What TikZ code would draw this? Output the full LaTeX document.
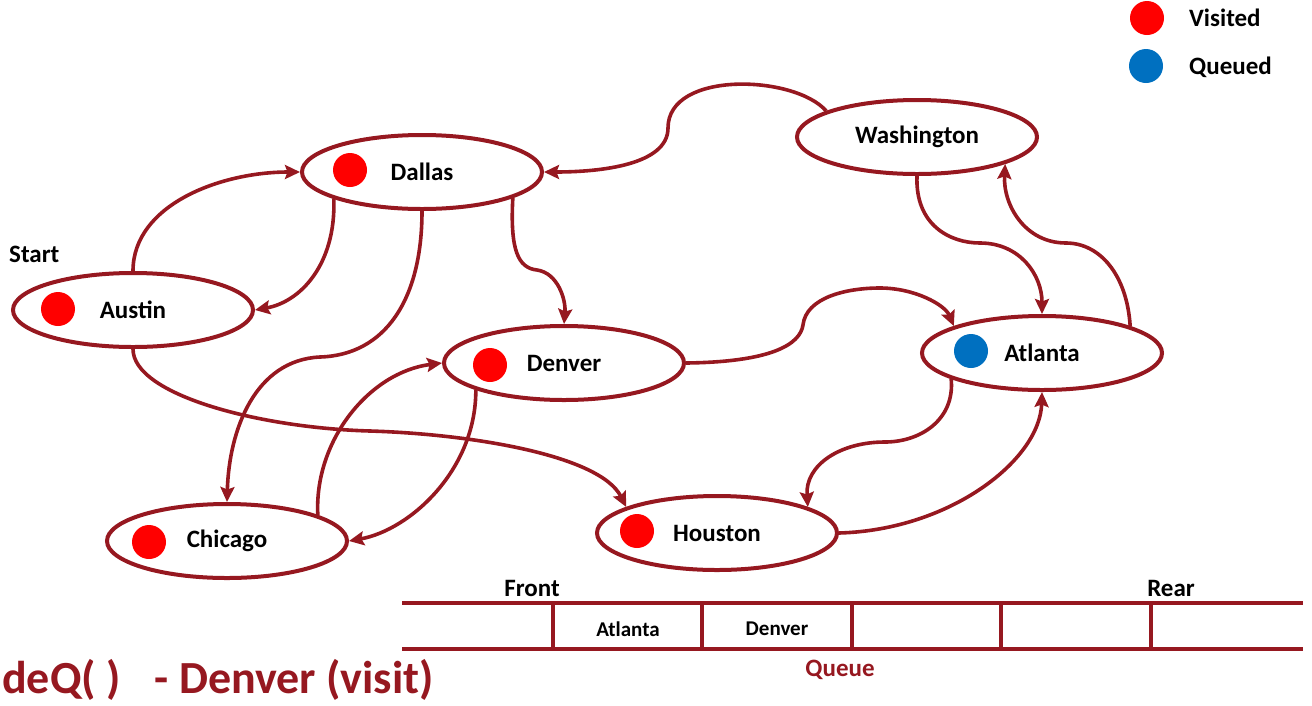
\documentclass[tikz,border=0pt]{standalone}
\usepackage{fontspec}
\setmainfont{Carlito}
\usetikzlibrary{shapes.geometric,arrows.meta}

\definecolor{linkred}{RGB}{150,24,32}
\definecolor{visitred}{RGB}{255,0,0}
\definecolor{queueblue}{RGB}{0,112,192}

\tikzset{
  city/.style={ellipse, draw=linkred, line width=4pt, fill=white,
    minimum width=240pt, minimum height=74pt, inner sep=0pt,
    font=\fontsize{25}{30}\selectfont\bfseries},
  dot/.style={circle, minimum size=34pt, inner sep=0pt},
  tag/.style={inner sep=0pt, font=\fontsize{25}{30}\selectfont\bfseries},
  cell/.style={inner sep=0pt, font=\fontsize{21}{25}\selectfont\bfseries},
  link/.style={draw=linkred, line width=3.6pt,
    -{Stealth[length=15pt,width=14pt,inset=2.5pt]}},
  bar/.style={draw=linkred, line width=4.5pt},
}

\begin{document}
\begin{tikzpicture}[x=1pt,y=-1pt]

\useasboundingbox (0,0) rectangle (1312,705);

% cities
\node[city] (dal) at (422,172) {Dallas};
\node[city] (was) at (917,137) {Washington};
\node[city] (aus) at (133,310) {Austin};
\node[city] (den) at (564,363) {Denver};
\node[city] (atl) at (1042,353) {Atlanta};
\node[city] (chi) at (227,541) {Chicago};
\node[city] (hou) at (717,533) {Houston};

\node[dot, fill=visitred] (dal-dot) at (350,170) {};
\node[dot, fill=visitred] (aus-dot) at (58,309) {};
\node[dot, fill=visitred] (den-dot) at (490,365) {};
\node[dot, fill=queueblue] (atl-dot) at (971,351) {};
\node[dot, fill=visitred] (chi-dot) at (149,542) {};
\node[dot, fill=visitred] (hou-dot) at (637,531) {};

\node[tag, anchor=west] (start) at (9,254) {Start};

% legend
\node[dot, fill=visitred] (key-visit) at (1147,18) {};
\node[dot, fill=queueblue] (key-queue) at (1146,66) {};
\node[tag, anchor=west] (key-visit-text) at (1189,18) {Visited};
\node[tag, anchor=west] (key-queue-text) at (1189,67) {Queued};

% edges
\draw[link] (aus.north) .. controls (133,205) and (220,172) .. (dal.west);
\draw[link] (dal.197) .. controls (336,265) and (300,302) .. (aus.east);
\draw[link] (dal.south) .. controls (422,300) and (385,355) .. (320,357)
  .. controls (255,360) and (229,430) .. (chi.north);
\draw[link] (dal.-16) .. controls (510,250) and (518,268) .. (537,270)
  .. controls (558,273) and (566,300) .. (den.north);
\draw[link] (was.164) .. controls (795,75) and (668,70) .. (668,128)
  .. controls (668,165) and (600,172) .. (dal.east);
\draw[link] (was.south) .. controls (915,225) and (950,243) .. (980,243)
  .. controls (1020,243) and (1042,275) .. (atl.north);
\draw[link] (atl.17) .. controls (1127,275) and (1100,243) .. (1066,243)
  .. controls (1025,243) and (1003,205) .. (was.-17);
\draw[link] (den.east) .. controls (770,362) and (800,345) .. (803,325)
  .. controls (806,298) and (845,288) .. (880,288)
  .. controls (915,288) and (945,305) .. (atl.163);
\draw[link] (aus.south) .. controls (133,395) and (260,428) .. (370,431)
  .. controls (470,434) and (600,455) .. (hou.164);
\draw[link] (chi.16) .. controls (314,440) and (370,372) .. (den.west);
\draw[link] (den.-163) .. controls (476,470) and (410,530) .. (chi.east);
\draw[link] (atl.196) .. controls (955,420) and (920,442) .. (885,442)
  .. controls (840,442) and (805,465) .. (hou.16);
\draw[link] (hou.east) .. controls (950,530) and (1040,460) .. (atl.south);

% queue
\draw[bar] (402,603) -- (1303,603);
\draw[bar] (402,649) -- (1303,649);
\foreach \x in {553,702,852,1001,1151}
    \draw[bar, line width=3.5pt] (\x,603) -- (\x,649);

\node[cell] (q-atl) at (628,629) {Atlanta};
\node[cell] (q-den) at (777,629) {Denver};
\node[tag] (front) at (532,588) {Front};
\node[tag] (rear) at (1171,588) {Rear};
\node[tag, text=linkred] (queue) at (840,670) {Queue};

\node[inner sep=0pt, anchor=base west, text=linkred,
  font=\fontsize{46}{50}\selectfont\bfseries] (deq) at (2,693)
  {deQ( )\hspace{34pt}- Denver (visit)};

\end{tikzpicture}
\end{document}
